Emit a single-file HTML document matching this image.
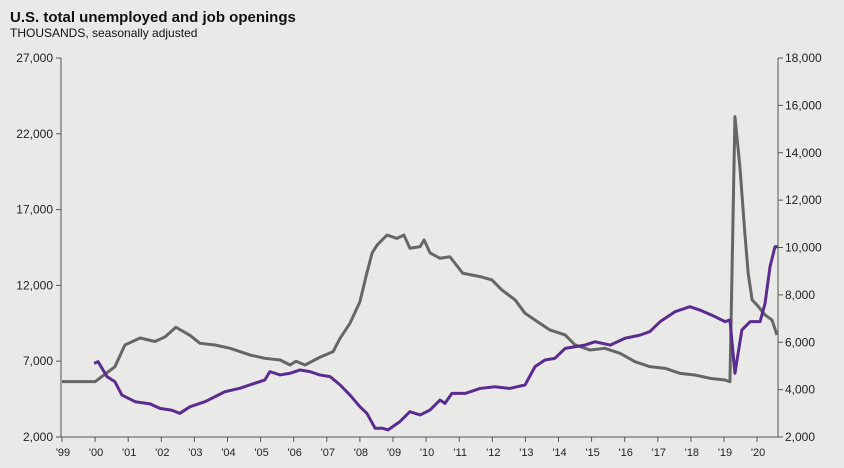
<!DOCTYPE html>
<html><head><meta charset="utf-8"><style>
body{margin:0;background:#fff}
#wrap{width:844px;height:468px;background:#e9e9e7;position:relative;font-family:"Liberation Sans",Arial,sans-serif;overflow:hidden}
</style></head><body>
<div id="wrap">
<svg id="chart" width="844" height="468">
<text x="10" y="22" font-size="15" font-weight="bold" fill="#111">U.S. total unemployed and job openings</text>
<text x="10" y="37" font-size="12" fill="#111">THOUSANDS, seasonally adjusted</text>
</svg>
</div>
<script>
const years=['\'99','\'00','\'01','\'02','\'03','\'04','\'05','\'06','\'07','\'08','\'09','\'10','\'11','\'12','\'13','\'14','\'15','\'16','\'17','\'18','\'19','\'20'];
const leftTicks=[2000,7000,12000,17000,22000,27000];
const rightTicks=[2000,4000,6000,8000,10000,12000,14000,16000,18000];
const unempT=[0,1.0,1.6,1.9,2.36,2.81,3.11,3.44,3.87,4.17,4.62,5.08,5.68,6.13,6.59,6.89,7.07,7.34,7.79,8.19,8.40,8.70,9.00,9.21,9.37,9.52,9.82,10.12,10.33,10.51,10.82,10.94,11.12,11.42,11.72,12.11,12.63,12.99,13.29,13.69,13.99,14.29,14.74,15.20,15.50,15.95,16.40,16.86,17.31,17.76,18.22,18.67,19.12,19.58,20.03,20.18,20.33,20.48,20.63,20.73,20.85,21.0,21.24,21.45,21.60];
const unempV=[5650,5650,6640,8070,8530,8300,8600,9240,8700,8180,8070,7850,7410,7190,7080,6750,7000,6750,7260,7630,8510,9500,10920,12820,14140,14660,15320,15100,15320,14450,14560,15000,14140,13790,13890,12800,12580,12360,11700,11040,10160,9720,9060,8730,8070,7740,7850,7520,6970,6640,6530,6200,6090,5870,5760,5650,23130,19830,15440,12800,11040,10700,10050,9720,8730];
const openT=[0.97,1.09,1.36,1.6,1.81,2.21,2.66,2.96,3.32,3.56,3.87,4.32,4.62,4.92,5.38,5.83,6.13,6.28,6.59,6.89,7.19,7.49,7.79,8.10,8.40,8.70,9.00,9.21,9.46,9.67,9.85,10.21,10.51,10.82,11.12,11.42,11.57,11.78,12.18,12.63,13.08,13.53,13.99,14.29,14.59,14.89,15.20,15.50,15.80,16.10,16.56,17.01,17.46,17.76,18.07,18.52,18.97,19.27,19.73,20.03,20.18,20.33,20.54,20.79,21.09,21.24,21.39,21.54,21.63];
const openV=[5110,5180,4550,4330,3770,3490,3400,3210,3130,3000,3280,3490,3700,3910,4060,4270,4410,4760,4620,4690,4830,4760,4620,4550,4200,3770,3280,3000,2370,2370,2300,2650,3070,2930,3140,3560,3420,3840,3840,4050,4120,4050,4200,4970,5250,5320,5740,5810,5880,6020,5880,6170,6300,6450,6870,7290,7500,7360,7080,6870,6940,4690,6520,6870,6870,7640,9190,10030,10030];
const NS='http://www.w3.org/2000/svg';
const svg=document.getElementById('chart');
const X0=62,XW=33.1,Y0=437,Y1=58;
const x=t=>X0+t*XW;
const yL=v=>Y0-(v-2000)/25000*(Y0-Y1);
const yR=v=>Y0-(v-2000)/16000*(Y0-Y1);
function el(tag,a){const e=document.createElementNS(NS,tag);for(const k in a)e.setAttribute(k,a[k]);svg.appendChild(e);return e;}
// axes
let a=el('line',{x1:61,y1:Y1,x2:61,y2:Y0,stroke:'#555','stroke-width':1});


a=el('line',{x1:778,y1:Y1,x2:778,y2:Y0,stroke:'#555','stroke-width':1});


a=el('line',{x1:61,y1:Y0,x2:778,y2:Y0,stroke:'#555','stroke-width':1});


leftTicks.forEach(v=>{
 const t=el('line',{x1:56,x2:61,y1:yL(v),y2:yL(v),stroke:'#555'});
 
 
 const l=el('text',{x:53,y:yL(v)+4,'text-anchor':'end','font-size':12,fill:'#222'});
 l.textContent=v.toLocaleString('en-US');
 
 
});
rightTicks.forEach(v=>{
 const t=el('line',{x1:778,x2:783,y1:yR(v),y2:yR(v),stroke:'#555'});
 
 
 const l=el('text',{x:785,y:yR(v)+4,'font-size':12,fill:'#222'});
 l.textContent=v.toLocaleString('en-US');
 
 
});
years.forEach((s,i)=>{
 const t=el('line',{x1:x(i),x2:x(i),y1:Y0,y2:Y0+5,stroke:'#555'});
 
 
 const l=el('text',{x:x(i)+1,y:456,'text-anchor':'middle','font-size':11,fill:'#222'});
 l.textContent=s;
 
 
});
let p=el('polyline',{points:unempT.map((t,i)=>x(t)+','+yL(unempV[i])).join(' '),fill:'none',stroke:'#666','stroke-width':3,'stroke-linejoin':'round'});


p=el('polyline',{points:openT.map((t,i)=>x(t)+','+yR(openV[i])).join(' '),fill:'none',stroke:'#5b2c8f','stroke-width':3,'stroke-linejoin':'round'});


</script>
</body></html>
